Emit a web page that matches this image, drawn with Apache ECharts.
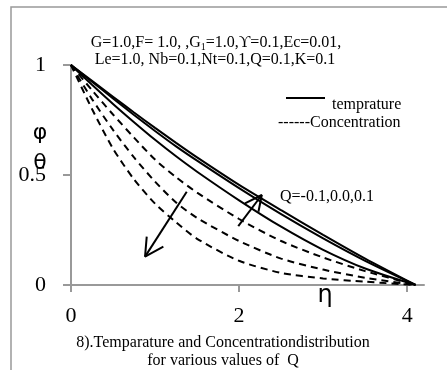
<!DOCTYPE html>
<html>
<head>
<meta charset="utf-8">
<script src="https://cdn.jsdelivr.net/npm/echarts@6/dist/echarts.min.js"></script>
<style>html,body{margin:0;padding:0;background:#fff}#c{width:447px;height:370px}</style>
</head>
<body>
<div id="c"></div>
<script>
// eta grid (x values)
const eta = [0, 0.25, 0.5, 0.75, 1.0, 1.25, 1.5, 2.0, 2.5, 3.0, 3.5, 4.1];
// temperature profiles (solid)
const tempA = [1, 0.928, 0.856, 0.784, 0.714, 0.646, 0.58, 0.455, 0.34, 0.228, 0.12, 0];
const tempB = [1, 0.924, 0.848, 0.773, 0.70, 0.63, 0.565, 0.44, 0.322, 0.212, 0.11, 0];
const tempC = [1, 0.91, 0.823, 0.74, 0.66, 0.585, 0.515, 0.385, 0.265, 0.16, 0.075, 0];
// concentration profiles (dashed)
const concA = [1, 0.885, 0.775, 0.67, 0.57, 0.49, 0.42, 0.30, 0.20, 0.125, 0.063, 0];
const concB = [1, 0.845, 0.705, 0.58, 0.47, 0.375, 0.305, 0.20, 0.12, 0.07, 0.033, 0];
const concC = [1, 0.80, 0.62, 0.48, 0.37, 0.285, 0.21, 0.11, 0.055, 0.03, 0.015, 0];
// tick labels
const xTicks = [0, 2, 4];
const yTicks = [0, 0.5, 1];
// annotation arrows in data units: [tail, tip, wing1, wing2]
const arrowDown = [[1.377, 0.424], [0.881, 0.129], [0.901, 0.22], [1.099, 0.174]];
const arrowUp = [[1.99, 0.268], [2.27, 0.409], [2.07, 0.371], [2.23, 0.333]];

const zip = (xs, ys) => xs.map((x, i) => [x, ys[i]]);
const serif = 'Liberation Serif';
const F16 = '16px "Liberation Serif"';

function curve(name, ys, dashed) {
  return {
    name, type: 'line', data: zip(eta, ys), smooth: 0.25, symbol: 'none', silent: true,
    lineStyle: { color: '#000', width: 2, type: dashed ? [7, 5] : 'solid' }
  };
}
function arrowSeries(a) {
  const [tail, tip, w1, w2] = a;
  return [
    { type: 'line', data: [tail, tip], symbol: 'none', silent: true, lineStyle: { color: '#000', width: 2 } },
    { type: 'line', data: [w1, tip, w2], symbol: 'none', silent: true, lineStyle: { color: '#000', width: 2 } }
  ];
}

const chart = echarts.init(document.getElementById('c'), null, { renderer: 'canvas' });
chart.setOption({
  animation: false,
  backgroundColor: '#fff',
  grid: { left: 71, top: 65, right: 23, bottom: 85, containLabel: false },
  xAxis: {
    type: 'value', min: 0, max: 4.2,
    axisLine: { show: true, onZero: false, lineStyle: { color: '#999', width: 2 } },
    axisTick: { show: true, length: 7, customValues: xTicks, lineStyle: { color: '#999', width: 2 } },
    axisLabel: { customValues: xTicks, color: '#000', fontFamily: serif, fontSize: 22, margin: 20 },
    splitLine: { show: false }
  },
  yAxis: {
    type: 'value', min: 0, max: 1,
    axisLine: { show: true, onZero: false, lineStyle: { color: '#999', width: 2 } },
    axisTick: { show: true, length: 8, customValues: yTicks, lineStyle: { color: '#999', width: 2 } },
    axisLabel: { customValues: yTicks, color: '#000', fontFamily: serif, fontSize: 22, margin: 25 },
    splitLine: { show: false }
  },
  series: [
    curve('tA', tempA, false), curve('tB', tempB, false), curve('tC', tempC, false),
    curve('cA', concA, true), curve('cB', concB, true), curve('cC', concC, true),
    ...arrowSeries(arrowDown), ...arrowSeries(arrowUp)
  ],
  graphic: [
    { type: 'rect', shape: { x: 11, y: 7, width: 480, height: 420 }, style: { fill: 'none', stroke: '#999', lineWidth: 1.5 }, silent: true },
    { type: 'text', x: 216, y: 43, style: {
        text: 'G=1.0,F= 1.0, ,G{sub|1}=1.0,ϒ=0.1,Ec=0.01,', font: F16, fill: '#000', align: 'center', verticalAlign: 'middle',
        rich: { sub: { fontSize: 10, fontFamily: serif, padding: [8, 0, 0, 0] } } } },
    { type: 'text', x: 215, y: 60, style: { text: 'Le=1.0, Nb=0.1,Nt=0.1,Q=0.1,K=0.1', font: F16, fill: '#000', align: 'center', verticalAlign: 'middle' } },
    { type: 'line', shape: { x1: 286, y1: 98, x2: 325, y2: 98 }, style: { stroke: '#000', lineWidth: 2 } },
    { type: 'text', x: 332, y: 105, style: { text: 'temprature', font: F16, fill: '#000', align: 'left', verticalAlign: 'middle' } },
    { type: 'text', x: 278, y: 123, style: { text: '------Concentration', font: F16, fill: '#000', align: 'left', verticalAlign: 'middle' } },
    { type: 'text', x: 280, y: 197, style: { text: 'Q=-0.1,0.0,0.1', font: F16, fill: '#000', align: 'left', verticalAlign: 'middle' } },
    { type: 'text', x: 40, y: 133, style: { text: 'φ', font: '22px "DejaVu Sans"', fill: '#000', align: 'center', verticalAlign: 'middle' } },
    { type: 'text', x: 40, y: 163, style: { text: 'θ', font: '22px "DejaVu Sans"', fill: '#000', align: 'center', verticalAlign: 'middle' } },
    { type: 'text', x: 325, y: 296, style: { text: 'η', font: '24px "DejaVu Sans"', fill: '#000', align: 'center', verticalAlign: 'middle' } },
    { type: 'text', x: 223, y: 343, style: { text: '8).Temparature and Concentrationdistribution', font: F16, fill: '#000', align: 'center', verticalAlign: 'middle' } },
    { type: 'text', x: 223, y: 361, style: { text: 'for various values of  Q', font: F16, fill: '#000', align: 'center', verticalAlign: 'middle' } }
  ]
});
</script>
</body>
</html>
